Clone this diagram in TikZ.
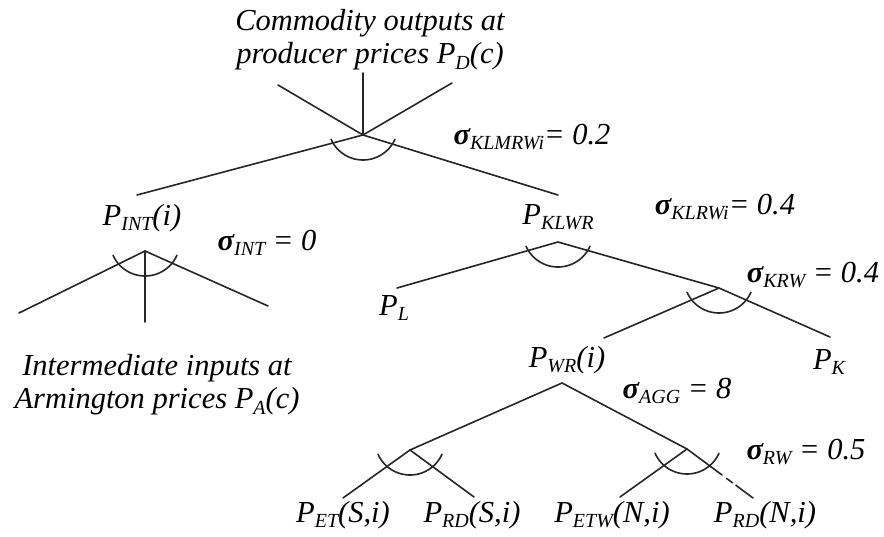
\documentclass[tikz,border=0pt]{standalone}
\usepackage{fontspec}
\usetikzlibrary{calc}
\setmainfont{Liberation Serif}
\newcommand\lo[1]{\raisebox{-0.17em}{\fontsize{20}{20}\selectfont #1}}
\newcommand\sg{{\bfseries σ}}
\begin{document}
\begin{tikzpicture}[x=1pt,y=-1pt,
  lbl/.style={font=\fontsize{30.5}{33}\selectfont\itshape, inner sep=0pt, anchor=center, align=center},
  br/.style={line width=1.6pt, draw=black!85, line cap=round},
  elast/.pic={\draw[br] plot[domain=24:156,samples=40] ({35*cos(\x)},{-10+35*sin(\x)});}
  ]
\useasboundingbox (0,0) rectangle (884,537);
% vertices
\coordinate (top) at (363,135);
\coordinate (int) at (145,251);
\coordinate (klwr) at (558,242);
\coordinate (krw) at (719,288);
\coordinate (wr) at (562,383);
\coordinate (ls) at (410,450);
\coordinate (rs) at (687,449);
% free ends
\coordinate (t1) at (278,85);
\coordinate (t2) at (363,73);
\coordinate (t3) at (452,83);
\coordinate (eint) at (137,195);
\coordinate (eklwr) at (558,195);
\coordinate (i1) at (19,313);
\coordinate (i2) at (145,322);
\coordinate (i3) at (268,306);
\coordinate (epl) at (397,288);
\coordinate (ewr) at (604,338);
\coordinate (epk) at (830,337);
\coordinate (b1) at (343,498);
\coordinate (b2) at (474,497);
\coordinate (b3) at (620,497);
\coordinate (b4) at (753,498);
% labels
\node[lbl] (title) at (370,40) {Commodity outputs at\\producer prices P\lo{D}(c)};
\node[lbl] (inter) at (157,385) {Intermediate inputs at\\Armington prices P\lo{A}(c)};
\node[lbl] (pint) at (142,218) {P\lo{INT}(i)};
\node[lbl] (pklwr) at (558,217) {P\lo{KLWR}};
\node[lbl] (pl) at (394,308) {P\lo{L}};
\node[lbl] (pwr) at (567,360) {P\lo{WR}(i)};
\node[lbl] (pk) at (829,362) {P\lo{K}};
\node[lbl] (pets) at (343,515) {P\lo{ET}(S,i)};
\node[lbl] (prds) at (472,515) {P\lo{RD}(S,i)};
\node[lbl] (petw) at (612,515) {P\lo{ETW}(N,i)};
\node[lbl] (prdn) at (765,515) {P\lo{RD}(N,i)};
\node[lbl] (s1) at (532,137) {\sg\lo{KLMRWi}= 0.2};
\node[lbl] (s2) at (267,243) {\sg\lo{INT} = 0};
\node[lbl] (s3) at (725,207) {\sg\lo{KLRWi}= 0.4};
\node[lbl] (s4) at (813,275) {\sg\lo{KRW} = 0.4};
\node[lbl] (s5) at (677,391) {\sg\lo{AGG} = 8};
\node[lbl] (s6) at (806,452) {\sg\lo{RW} = 0.5};
% branches
\draw[br] (t1) -- (top) -- (t3);
\draw[br] (t2) -- (top);
\draw[br] (eint) -- (top) -- (eklwr);
\draw[br] (i1) -- (int) -- (i3);
\draw[br] (i2) -- (int);
\draw[br] (epl) -- (klwr) -- (krw) -- (epk);
\draw[br] (ewr) -- (krw);
\draw[br] (ls) -- (wr) -- (rs);
\draw[br] (b1) -- (ls) -- (b2);
\draw[br] (b3) -- (rs) -- ($(rs)!0.53!(b4)$);
\draw[br] ($(rs)!0.6!(b4)$) -- ($(rs)!0.69!(b4)$);
\draw[br] ($(rs)!0.74!(b4)$) -- (b4);
% elasticity arcs
\pic at (top) {elast};
\pic at (int) {elast};
\pic at (klwr) {elast};
\pic at (krw) {elast};
\pic at (ls) {elast};
\pic at (rs) {elast};
\end{tikzpicture}
\end{document}
